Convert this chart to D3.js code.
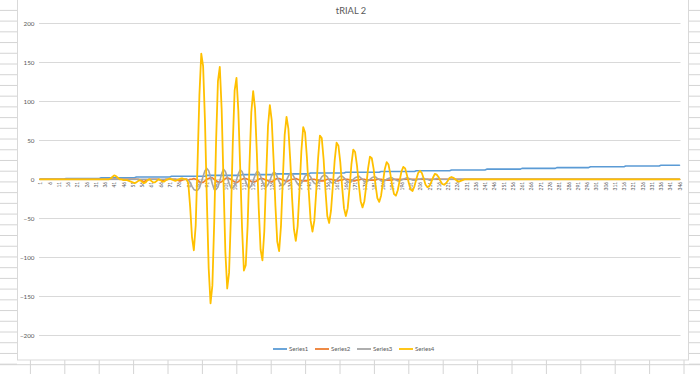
<!DOCTYPE html>
<html>
<head>
<meta charset="utf-8">
<script src="https://cdn.jsdelivr.net/npm/d3@7"></script>
<style>
  html, body { margin: 0; padding: 0; background: #fff; }
  svg { display: block; font-family: "Lato", "Open Sans", sans-serif; }
</style>
</head>
<body>
<svg id="chart" width="700" height="374"></svg>
<script>
// ---------------- DATA ----------------
const title = "tRIAL 2";
const seriesNames = ["Series1", "Series2", "Series3", "Series4"];
const seriesColors = ["#5B9BD5", "#ED7D31", "#A5A5A5", "#FFC000"];
const categories = d3.range(1, 347); // category labels 1..346
const yTicks = [-200, -150, -100, -50, 0, 50, 100, 150, 200];

const series1 = [
0,0,0,0,0,0,0,0,0,0, 0,0,0,0,1,1,1,1,1,1,
1,1,1,1,1,1,1,1,1,1, 1,1,1,2,2,2,2,2,2,2,
2,2,2,2,2,2,2,2,2,2, 2,2,3,3,3,3,3,3,3,3,
3,3,3,3,3,3,3,3,3,3, 3,4,4,4,4,4,4,4,4,4,
4,4,4,4,4,4,4,4,4,4, 5,5,5,5,5,5,5,5,5,5,
5,5,5,5,5,5,5,5,5,6, 6,6,6,6,6,6,6,6,6,6,
6,6,6,6,6,6,6,7,7,7, 7,7,7,7,7,7,7,7,7,7,
7,7,7,7,7,7,8,8,8,8, 8,8,8,8,8,8,8,8,8,8,
8,8,8,8,8,9,9,9,9,9, 9,9,9,9,9,9,9,9,9,9,
9,9,9,9,10,10,10,10,10,10, 10,10,10,10,10,10,10,10,10,10,
10,10,10,11,11,11,11,11,11,11, 11,11,11,11,11,11,11,11,11,11,
11,11,12,12,12,12,12,12,12,12, 12,12,12,12,12,12,12,12,12,12,
12,13,13,13,13,13,13,13,13,13, 13,13,13,13,13,13,13,13,13,13,
14,14,14,14,14,14,14,14,14,14, 14,14,14,14,14,14,14,14,14,15,
15,15,15,15,15,15,15,15,15,15, 15,15,15,15,15,15,15,16,16,16,
16,16,16,16,16,16,16,16,16,16, 16,16,16,16,16,16,17,17,17,17,
17,17,17,17,17,17,17,17,17,17, 17,17,17,17,17,18,18,18,18,18,
18,18,18,18,18,18
];

const series2 = [
0,0,0,0,0,0,0,0,0,0, 0,0,0,0,0,0,0,0,0,0,
0,0,0,0,0,0,0,0,0,0, 0,0,0,0,0,0,0,0,0,0,
0,0,0,0,0,0,0,0,0,0, 0,0,0,0,-1,-2,-3,-2,-1,0,
0,0,0,0,0,-1,-2,-1,0,0, 0,0,0,0,-1,-2,-2,-1,0,0,
-1,0,0,1,0,-1,-3,-4,-4,-2, 0,1,2,2,0,-2,-3,-4,-3,-1,
1,2,1,0,-2,-3,-4,-3,-1,0, 1,1,0,-1,-3,-3,-3,-2,0,1,
1,0,-1,-2,-3,-3,-2,0,1,1, 0,-1,-2,-3,-2,-1,0,0,1,0,
-1,-2,-2,-2,-2,-1,0,0,0,-1, -1,-2,-2,-2,-1,0,0,0,-1,-1,
-2,-2,-1,-1,0,0,0,-1,-1,-2, -2,-1,-1,0,0,0,-1,-1,-1,-1,
-1,-1,0,0,0,-1,-1,-1,-1,-1, -1,0,0,0,0,0,0,0,0,0,
0,0,0,0,0,0,0,0,0,0, 0,0,0,0,0,0,0,0,0,0,
0,0,0,0,0,0,0,0,0,0, 0,0,0,0,0,0,0,0,0,0,
0,0,0,0,0,0,0,0,0,0, 0,0,0,0,0,0,0,0,0,0,
0,0,0,0,0,0,0,0,0,0, 0,0,0,0,0,0,0,0,0,0,
0,0,0,0,0,0,0,0,0,0, 0,0,0,0,0,0,0,0,0,0,
0,0,0,0,0,0,0,0,0,0, 0,0,0,0,0,0,0,0,0,0,
0,0,0,0,0,0,0,0,0,0, 0,0,0,0,0,0,0,0,0,0,
0,0,0,0,0,0
];

const series3 = [
0,0,0,0,0,0,0,0,0,0, 0,0,0,0,0,0,0,0,0,0,
0,0,0,0,0,0,0,0,0,0, 0,0,0,0,0,0,0,0,0,0,
0,0,0,0,0,0,0,0,0,0, 0,0,0,0,0,0,0,0,0,0,
0,0,0,0,0,0,0,0,0,0, 0,0,0,0,0,0,0,0,0,0,
-1,-4,-9,-13,-14,-14,-11,-4,4,11, 14,11,3,-6,-13,-13,-10,-2,7,13,
10,3,-5,-11,-11,-8,-1,7,12,10, 4,-3,-9,-11,-8,-2,5,10,9,4,
-3,-8,-10,-7,-2,5,9,8,3,-3, -7,-8,-6,-1,4,8,7,3,-2,-6,
-7,-5,-1,4,6,6,3,-2,-5,-6, -4,-1,3,5,5,3,-1,-4,-5,-4,
-1,2,4,4,2,-1,-3,-4,-3,0, 2,3,4,2,0,-3,-3,-2,0,2,
3,3,1,0,-2,-3,-2,0,1,2, 2,0,-1,-2,-2,-1,0,1,2,1,
0,-1,-1,-1,0,0,1,1,0,0, -1,-1,0,0,1,1,0,0,0,0,
0,0,0,0,0,0,0,0,0,0, 0,0,0,0,0,0,0,0,0,0,
0,0,0,0,0,0,0,0,0,0, 0,0,0,0,0,0,0,0,0,0,
0,0,0,0,0,0,0,0,0,0, 0,0,0,0,0,0,0,0,0,0,
0,0,0,0,0,0,0,0,0,0, 0,0,0,0,0,0,0,0,0,0,
0,0,0,0,0,0,0,0,0,0, 0,0,0,0,0,0,0,0,0,0,
0,0,0,0,0,0,0,0,0,0, 0,0,0,0,0,0,0,0,0,0,
0,0,0,0,0,0
];

const series4 = [
0,0,0,0,0,0,0,0,0,0, 0,0,0,0,0,0,0,0,0,0,
0,0,0,0,0,0,0,0,0,0, 0,0,0,0,0,0,0,0,1,3,
5,4,2,0,0,-1,-1,-1,-2,-3, -4,-5,-4,-2,-1,-3,-5,-4,-1,0,
-2,-4,-4,-2,0,-1,-3,-3,-1,0, 1,0,-1,-2,-1,0,1,1,0,0,
-5,-35,-74,-91,-59,21,108,161,145,75, -25,-114,-159,-136,-54,49,126,144,90,-3,
-93,-140,-120,-47,46,114,130,88,15,-62, -117,-110,-60,18,86,113,91,33,-37,-90,
-104,-67,3,68,95,76,26,-34,-80,-92, -60,0,57,80,65,25,-24,-64,-79,-60,
-14,36,67,60,28,-16,-53,-67,-53,-16, 26,56,53,26,-14,-47,-56,-40,-8,25,
47,43,22,-10,-37,-47,-37,-11,19,38, 35,18,-7,-28,-36,-28,-8,14,29,27,
13,-7,-24,-29,-21,-4,13,22,19,7, -8,-19,-21,-14,-2,10,16,14,5,-5,
-13,-15,-9,0,8,11,8,1,-7,-10, -9,-4,2,7,6,3,-2,-6,-7,-5,
-2,2,3,2,0,-2,-3,-2,-1,0, 0,0,0,0,0,0,0,0,0,0,
0,0,0,0,0,0,0,0,0,0, 0,0,0,0,0,0,0,0,0,0,
0,0,0,0,0,0,0,0,0,0, 0,0,0,0,0,0,0,0,0,0,
0,0,0,0,0,0,0,0,0,0, 0,0,0,0,0,0,0,0,0,0,
0,0,0,0,0,0,0,0,0,0, 0,0,0,0,0,0,0,0,0,0,
0,0,0,0,0,0,0,0,0,0, 0,0,0,0,0,0,0,0,0,0,
0,0,0,0,0,0
];

const allSeries = [series1, series2, series3, series4];

// ---------------- DRAW ----------------
const svg = d3.select("#chart");
const W = 700, H = 374;

// spreadsheet grid behind the chart
const gridColor = "#D4D4D4";
const sheet = svg.append("g");
const rowYs = d3.range(0, 35).map(k => 10.4 + 10.72 * k);
sheet.selectAll("line.rowL").data(rowYs).join("line")
  .attr("x1", 0).attr("x2", 17).attr("y1", d => d).attr("y2", d => d)
  .attr("stroke", gridColor).attr("stroke-width", 1);
sheet.selectAll("line.rowR").data(rowYs).join("line")
  .attr("x1", 689).attr("x2", 700).attr("y1", d => d).attr("y2", d => d)
  .attr("stroke", gridColor).attr("stroke-width", 1);
const colXs = d3.range(0, 21).map(k => 30.4 + 34.4 * k);
sheet.selectAll("line.col").data(colXs).join("line")
  .attr("x1", d => d).attr("x2", d => d).attr("y1", 360).attr("y2", H)
  .attr("stroke", gridColor).attr("stroke-width", 1);
sheet.append("line").attr("x1", 0).attr("x2", W).attr("y1", 364.7).attr("y2", 364.7)
  .attr("stroke", gridColor).attr("stroke-width", 1);

// chart frame
svg.append("rect").attr("x", 17.5).attr("y", -1).attr("width", 671).attr("height", 361)
  .attr("fill", "#fff").attr("stroke", "#D9D9D9").attr("stroke-width", 1);

// scales
const x = d3.scalePoint().domain(categories).range([40, 679.5]);
const y = d3.scaleLinear().domain([-200, 200]).range([335.3, 23.3]);
const plotLeft = 39, plotRight = 680.5;

// gridlines
svg.append("g").selectAll("line").data(yTicks).join("line")
  .attr("x1", plotLeft).attr("x2", plotRight)
  .attr("y1", d => Math.round(y(d)) + 0.5).attr("y2", d => Math.round(y(d)) + 0.5)
  .attr("stroke", "#D9D9D9").attr("stroke-width", 1);

// y axis labels
const yAxis = d3.axisLeft(y).tickValues(yTicks).tickSize(0).tickPadding(0).tickFormat(d3.format("d"));
const gy = svg.append("g").attr("transform", "translate(34.5,0)").call(yAxis);
gy.select(".domain").remove();
gy.selectAll("text").attr("fill", "#595959").attr("font-size", "6.3px")
  .attr("font-family", "Lato, 'Open Sans', sans-serif");

// x axis (at zero) with rotated labels every 5 categories
const xTickVals = categories.filter(c => (c - 1) % 5 === 0);
const xAxis = d3.axisBottom(x).tickValues(xTickVals).tickSize(0).tickPadding(0);
const gx = svg.append("g").attr("transform", `translate(0,${y(0)})`).call(xAxis);
gx.select(".domain").attr("d", `M${plotLeft},0.5H${plotRight}`).attr("stroke", "#D9D9D9");
gx.selectAll("text")
  .attr("fill", "#595959").attr("font-size", "5px")
  .attr("font-family", "Lato, 'Open Sans', sans-serif")
  .attr("text-anchor", "end")
  .attr("dy", "0.35em")
  .attr("transform", "translate(0,2.5) rotate(-90)")
  .attr("x", 0).attr("y", 0);

// lines
const line = d3.line().x((d, i) => x(categories[i])).y(d => y(d));
allSeries.forEach((s, k) => {
  svg.append("path").datum(s)
    .attr("fill", "none").attr("stroke", seriesColors[k])
    .attr("stroke-width", k === 3 ? 1.8 : 1.6)
    .attr("stroke-linejoin", "round").attr("stroke-linecap", "round")
    .attr("d", line);
});

// title
svg.append("text").attr("x", 351).attr("y", 13.5).attr("text-anchor", "middle")
  .attr("fill", "#595959").attr("font-size", "9.3px").text(title);

// legend
const lg = svg.append("g").attr("transform", "translate(273,349)");
seriesNames.forEach((name, k) => {
  const g = lg.append("g").attr("transform", `translate(${k * 42},0)`);
  g.append("line").attr("x1", 0).attr("x2", 14).attr("y1", 0).attr("y2", 0)
    .attr("stroke", seriesColors[k]).attr("stroke-width", 1.8);
  g.append("text").attr("x", 16).attr("y", 0).attr("dy", "0.35em")
    .attr("fill", "#595959").attr("font-size", "6px").text(name);
});
</script>
</body>
</html>
